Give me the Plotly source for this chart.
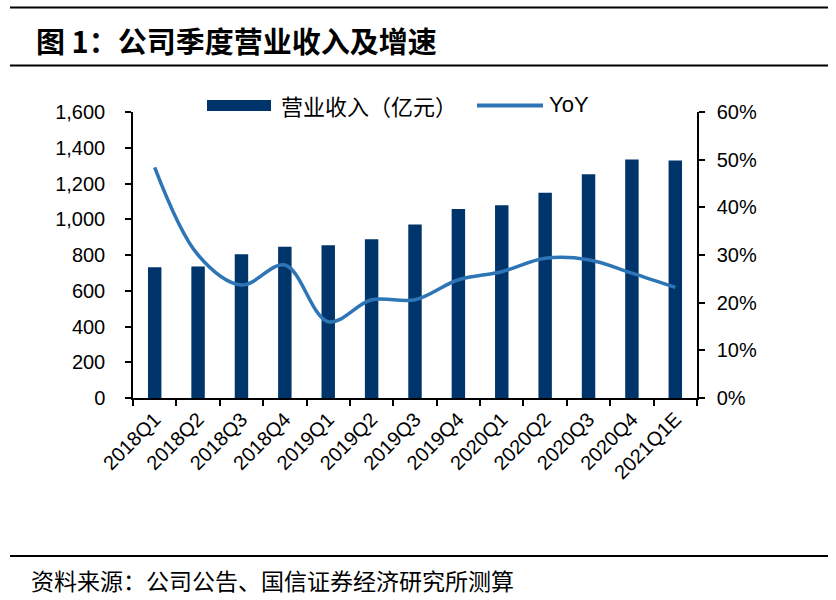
import plotly.graph_objects as go

categories = ["2018Q1", "2018Q2", "2018Q3", "2018Q4", "2019Q1", "2019Q2", "2019Q3",
              "2019Q4", "2020Q1", "2020Q2", "2020Q3", "2020Q4", "2021Q1E"]
revenue = [731, 735, 804, 846, 854, 888, 971, 1057, 1079, 1148, 1252, 1334, 1329]
yoy = [0.484, 0.300, 0.237, 0.279, 0.160, 0.206, 0.206, 0.248, 0.265, 0.293, 0.290, 0.262, 0.232]

title_text = "<b>图 1：公司季度营业收入及增速</b>"
source_text = "资料来源：公司公告、国信证券经济研究所测算"
bar_name = "营业收入（亿元）"
line_name = "YoY"

W, H = 836, 600
L, R, T, B = 133, 697, 112, 398

def px(x):
    return (x - L) / (R - L)

def py(y):
    return (B - y) / (B - T)

BAR_COLOR = "#00356B"
LINE_COLOR = "#2E75B6"
CJK = "Noto Sans CJK SC"
LAT = "Liberation Sans, Arial"

fig = go.Figure()
fig.add_trace(go.Bar(x=categories, y=revenue, name=bar_name, marker_color=BAR_COLOR,
                     marker_line_width=0, yaxis="y"))
fig.add_trace(go.Scatter(x=categories, y=yoy, name=line_name, mode="lines",
                         line=dict(color=LINE_COLOR, width=3.5, shape="spline", smoothing=1.0),
                         yaxis="y2"))

axis_common = dict(showline=True, linecolor="black", linewidth=1.5, ticks="outside",
                   ticklen=6, tickcolor="black", tickwidth=1.5, showgrid=False, zeroline=False,
                   tickfont=dict(family=LAT, size=20, color="black"))

fig.update_layout(
    width=W, height=H,
    margin=dict(l=L, r=W - R, t=T, b=H - B),
    paper_bgcolor="white", plot_bgcolor="white",
    showlegend=False,
    bargap=0.69,
    xaxis=dict(type="category", tickson="boundaries", tickangle=-45, **axis_common),
    yaxis=dict(range=[0, 1600], dtick=200, tickformat=",", ticklabelstandoff=16, **axis_common),
    yaxis2=dict(range=[0, 0.6], dtick=0.1, tickformat=".0%", overlaying="y", side="right",
                ticklabelstandoff=8, **axis_common),
)

shapes = []
# horizontal rules
for yy in (7.5, 65.5, 556):
    shapes.append(dict(type="line", xref="paper", yref="paper", x0=px(10), x1=px(828),
                       y0=py(yy), y1=py(yy), line=dict(color="black", width=2)))
# legend swatches
shapes.append(dict(type="rect", xref="paper", yref="paper", x0=px(207), x1=px(271),
                   y0=py(111), y1=py(100), fillcolor=BAR_COLOR, line=dict(width=0)))
shapes.append(dict(type="line", xref="paper", yref="paper", x0=px(477), x1=px(543),
                   y0=py(105.5), y1=py(105.5), line=dict(color=LINE_COLOR, width=4)))
fig.update_layout(shapes=shapes)

annotations = [
    dict(text=title_text, x=px(34), y=py(40), xref="paper", yref="paper", xanchor="left",
         yanchor="middle", showarrow=False, font=dict(family=CJK, size=29, color="black")),
    dict(text=source_text, x=px(29), y=py(580), xref="paper", yref="paper", xanchor="left",
         yanchor="middle", showarrow=False, font=dict(family=CJK, size=23, color="black")),
    dict(text=bar_name, x=px(279), y=py(105), xref="paper", yref="paper", xanchor="left",
         yanchor="middle", showarrow=False, font=dict(family=CJK, size=22, color="black")),
    dict(text=line_name, x=px(547), y=py(104), xref="paper", yref="paper", xanchor="left",
         yanchor="middle", showarrow=False, font=dict(family=LAT, size=22, color="black")),
]
fig.update_layout(annotations=annotations)

fig.write_html("out.html", config={"displayModeBar": False},
               post_script="document.body.style.margin='0';document.body.style.padding='0';")
